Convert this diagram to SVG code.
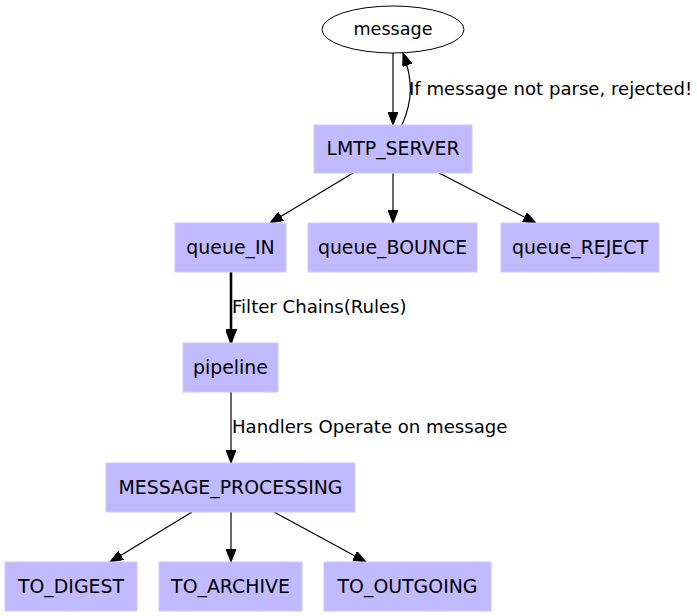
<svg xmlns="http://www.w3.org/2000/svg" width="697" height="616" viewBox="0 0 697 616">
<style>
.node rect{fill:#c2baff;stroke:#cdc7ff;stroke-width:1}
.node ellipse{fill:#ffffff;stroke:#000000;stroke-width:1}
text{font-family:"DejaVu Sans",Verdana,sans-serif;font-size:18.1px;fill:#000000}
.node text{text-anchor:middle;font-size:18.9px}
#message text{font-size:17.6px}
.edge{fill:none;stroke:#000000;stroke-width:1.2}
.thick{stroke-width:2.6}
</style>
<defs>
<marker id="arr" viewBox="0 0 13 10" refX="13" refY="5" markerWidth="13" markerHeight="10" markerUnits="userSpaceOnUse" orient="auto">
<path d="M0,0 L13,5 L0,10 z" fill="#000000" stroke="#000000" stroke-width="1"/>
</marker>
<marker id="arrT" viewBox="0 0 13 10" refX="13" refY="5" markerWidth="14" markerHeight="11" markerUnits="userSpaceOnUse" orient="auto">
<path d="M0,0 L13,5 L0,10 z" fill="#000000" stroke="#000000" stroke-width="1.5"/>
</marker>
</defs>
<rect x="0" y="0" width="697" height="616" fill="#ffffff"/>
<g id="connectors">
<path class="edge" d="M393,53 L393,125" marker-end="url(#arr)"/>
<path class="edge" d="M402,125 C413,100 413,80 403,53" marker-end="url(#arr)"/>
<path class="edge" d="M353,173 L270,223" marker-end="url(#arr)"/>
<path class="edge" d="M393,173 L393,223" marker-end="url(#arr)"/>
<path class="edge" d="M439,173 L536,223" marker-end="url(#arr)"/>
<path class="edge thick" d="M231,272 L231,343" marker-end="url(#arrT)"/>
<path class="edge" d="M231,392 L231,463" marker-end="url(#arr)"/>
<path class="edge" d="M192,512 L110,562" marker-end="url(#arr)"/>
<path class="edge" d="M231,512 L231,562" marker-end="url(#arr)"/>
<path class="edge" d="M274,512 L366,562" marker-end="url(#arr)"/>
<text x="409" y="95">If message not parse, rejected!</text>
<text x="232" y="313">Filter Chains(Rules)</text>
<text x="232" y="433">Handlers Operate on message</text>
</g>
<g id="message" class="node">
<ellipse cx="393" cy="29.5" rx="71" ry="23.5"/>
<text x="393" y="35">message</text>
</g>
<g id="LMTP_SERVER" class="node">
<rect x="314" y="125" width="158" height="48"/>
<text x="393" y="155">LMTP_SERVER</text>
</g>
<g id="queue_IN" class="node">
<rect x="175" y="223" width="111" height="49"/>
<text x="230.5" y="254">queue_IN</text>
</g>
<g id="queue_BOUNCE" class="node">
<rect x="308" y="223" width="169" height="49"/>
<text x="392.5" y="254">queue_BOUNCE</text>
</g>
<g id="queue_REJECT" class="node">
<rect x="501" y="223" width="158" height="49"/>
<text x="580" y="254">queue_REJECT</text>
</g>
<g id="pipeline" class="node">
<rect x="183" y="343" width="95" height="49"/>
<text x="230.5" y="374">pipeline</text>
</g>
<g id="MESSAGE_PROCESSING" class="node">
<rect x="106" y="463" width="249" height="49"/>
<text x="230.5" y="494">MESSAGE_PROCESSING</text>
</g>
<g id="TO_DIGEST" class="node">
<rect x="5" y="562" width="132" height="49"/>
<text x="71" y="593">TO_DIGEST</text>
</g>
<g id="TO_ARCHIVE" class="node">
<rect x="159" y="562" width="143" height="49"/>
<text x="230.5" y="593">TO_ARCHIVE</text>
</g>
<g id="TO_OUTGOING" class="node">
<rect x="324" y="562" width="167" height="49"/>
<text x="407.5" y="593">TO_OUTGOING</text>
</g>
</svg>
